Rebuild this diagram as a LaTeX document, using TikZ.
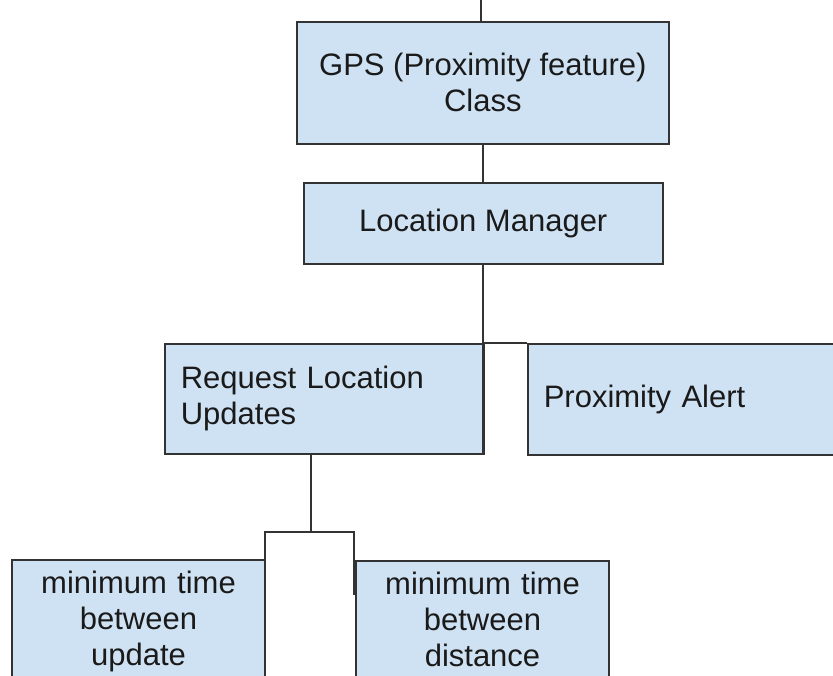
\documentclass[tikz,border=0pt]{standalone}
\usepackage{fontspec}
\setmainfont{Liberation Sans}
\definecolor{boxfill}{HTML}{CFE2F3}
\definecolor{edge}{HTML}{333333}
\definecolor{ink}{HTML}{1A1A1A}
\begin{document}
\begin{tikzpicture}[x=1pt,y=-1pt,
  box/.style={draw=edge, line width=1.6pt, fill=boxfill, text=ink,
    font=\fontsize{31}{36}\selectfont, inner sep=0pt, anchor=north west},
  leftbox/.style={box, align=left, inner xsep=16pt, text width=#1},
  topbox/.style={box, text width=253pt, align=center, inner ysep=11pt, anchor=north},
  link/.style={draw=edge, line width=1.6pt}]
\clip (0,0) rectangle (833,675);
\useasboundingbox (0,0) rectangle (833,675);

% class boxes
\node[box, minimum width=372pt, minimum height=122pt, align=center]
  (gps) at (296,21) {GPS (Proximity feature)\\Class};
\node[box, minimum width=359pt, minimum height=81pt]
  (lm) at (303,182) {Location Manager};
\node[leftbox=287pt, minimum height=110pt]
  (req) at (164,343) {Request Location\\Updates};
\node[leftbox=298pt, minimum height=111pt]
  (prox) at (527,343) {Proximity Alert};
\node[topbox] (lb) at (138.5,559) {minimum time\\between\\update\strut};
\node[topbox] (rb) at (482.5,560) {minimum time\\between\\distance\strut};

% connectors
\coordinate (top) at (481,0);
\draw[link] (top) -- (top |- gps.north);
\draw[link] (gps.south) -- (gps.south |- lm.north);
\coordinate (lmdrop) at (483,263);
\draw[link] (lmdrop) -- (lmdrop |- req.south);
\draw[link] (lmdrop |- req.north) -- (prox.north west);
\coordinate (reqdrop) at (311,453);
\coordinate (forkL) at (265,532);
\coordinate (forkR) at (354,532);
\draw[link] (reqdrop) -- (reqdrop |- forkL);
\draw[link] (forkL |- lb.south) -- (forkL) -- (forkR) -- ++(0,63);
\end{tikzpicture}
\end{document}
